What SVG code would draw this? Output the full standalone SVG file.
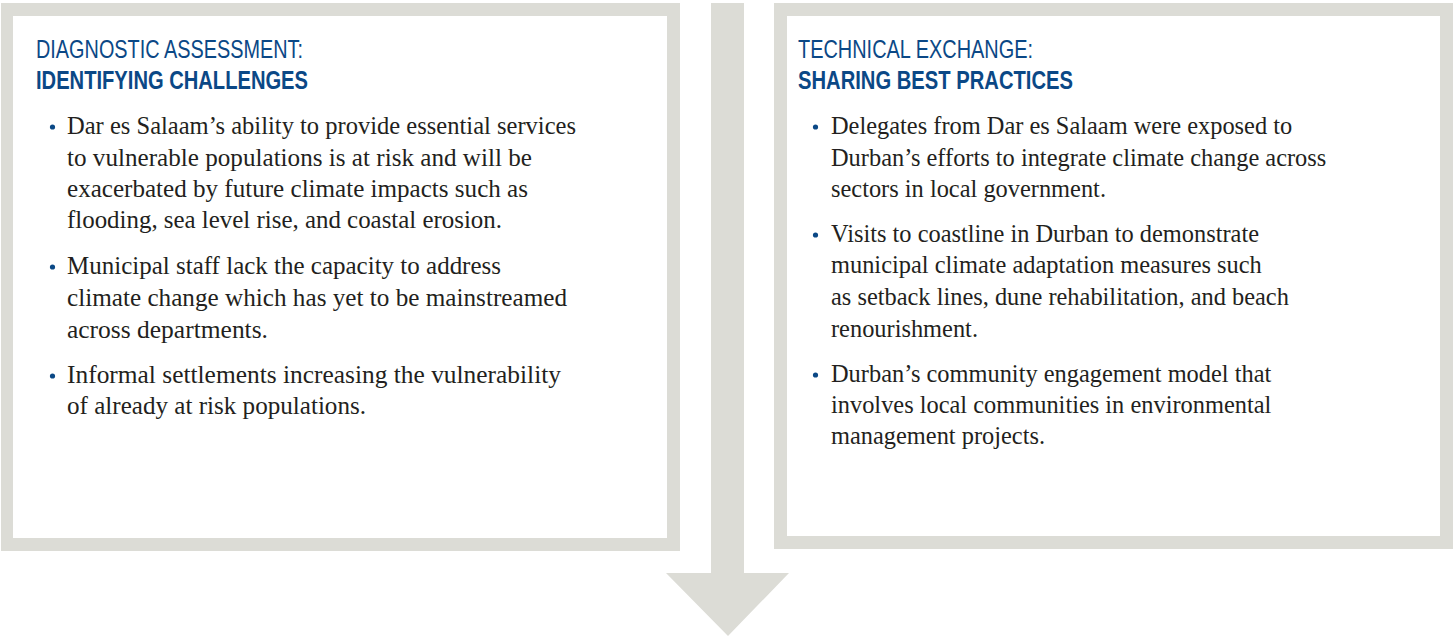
<svg xmlns="http://www.w3.org/2000/svg" width="1453" height="638" viewBox="0 0 1453 638">
<style>
.frame{fill:#dcdcd6}
.inner{fill:#ffffff}
.h1{font-family:"Liberation Sans",Arial,sans-serif;font-size:25px;fill:#0b4886}
.h2{font-family:"Liberation Sans",Arial,sans-serif;font-size:25px;font-weight:bold;fill:#0b4886}
.b{font-family:"Liberation Serif","Times New Roman",serif;font-size:24.4px;fill:#231f20}
.dot{fill:#0b4886}
</style>
<rect width="1453" height="638" fill="#ffffff"/>
<g id="connectors">
  <path class="frame" d="M711,3 H744 V573 H789 L728,636 L666,573 H711 Z"/>
</g>
<g id="node-diagnostic">
  <rect class="frame" x="1" y="3" width="679" height="548"/>
  <rect class="inner" x="13" y="16" width="654" height="522"/>
  <text class="h1" x="36" y="58" textLength="267" lengthAdjust="spacingAndGlyphs">DIAGNOSTIC ASSESSMENT:</text>
  <text class="h2" x="36" y="89" textLength="272" lengthAdjust="spacingAndGlyphs">IDENTIFYING CHALLENGES</text>
  <circle class="dot" cx="52.5" cy="127" r="2.6"/>
  <text class="b" x="67" y="134" textLength="509" lengthAdjust="spacingAndGlyphs">Dar es Salaam’s ability to provide essential services</text>
  <text class="b" x="67" y="166" textLength="465" lengthAdjust="spacingAndGlyphs">to vulnerable populations is at risk and will be</text>
  <text class="b" x="67" y="197" textLength="461" lengthAdjust="spacingAndGlyphs">exacerbated by future climate impacts such as</text>
  <text class="b" x="67" y="228" textLength="435" lengthAdjust="spacingAndGlyphs">flooding, sea level rise, and coastal erosion.</text>
  <circle class="dot" cx="52.5" cy="267" r="2.6"/>
  <text class="b" x="67" y="274" textLength="434" lengthAdjust="spacingAndGlyphs">Municipal staff lack the capacity to address</text>
  <text class="b" x="67" y="306" textLength="500" lengthAdjust="spacingAndGlyphs">climate change which has yet to be mainstreamed</text>
  <text class="b" x="67" y="338" textLength="201" lengthAdjust="spacingAndGlyphs">across departments.</text>
  <circle class="dot" cx="52.5" cy="376" r="2.6"/>
  <text class="b" x="67" y="383" textLength="494" lengthAdjust="spacingAndGlyphs">Informal settlements increasing the vulnerability</text>
  <text class="b" x="67" y="414" textLength="299" lengthAdjust="spacingAndGlyphs">of already at risk populations.</text>
</g>
<g id="node-technical">
  <rect class="frame" x="774" y="3" width="679" height="546"/>
  <rect class="inner" x="787" y="16" width="653" height="520"/>
  <text class="h1" x="798" y="58" textLength="235" lengthAdjust="spacingAndGlyphs">TECHNICAL EXCHANGE:</text>
  <text class="h2" x="798" y="89" textLength="275" lengthAdjust="spacingAndGlyphs">SHARING BEST PRACTICES</text>
  <circle class="dot" cx="815.5" cy="127" r="2.6"/>
  <text class="b" x="831" y="134">Delegates from Dar es Salaam were exposed to</text>
  <text class="b" x="831" y="166">Durban’s efforts to integrate climate change across</text>
  <text class="b" x="831" y="197">sectors in local government.</text>
  <circle class="dot" cx="815.5" cy="235" r="2.6"/>
  <text class="b" x="831" y="242">Visits to coastline in Durban to demonstrate</text>
  <text class="b" x="831" y="273">municipal climate adaptation measures such</text>
  <text class="b" x="831" y="305">as setback lines, dune rehabilitation, and beach</text>
  <text class="b" x="831" y="337">renourishment.</text>
  <circle class="dot" cx="815.5" cy="375" r="2.6"/>
  <text class="b" x="831" y="382">Durban’s community engagement model that</text>
  <text class="b" x="831" y="413">involves local communities in environmental</text>
  <text class="b" x="831" y="444">management projects.</text>
</g>
</svg>
